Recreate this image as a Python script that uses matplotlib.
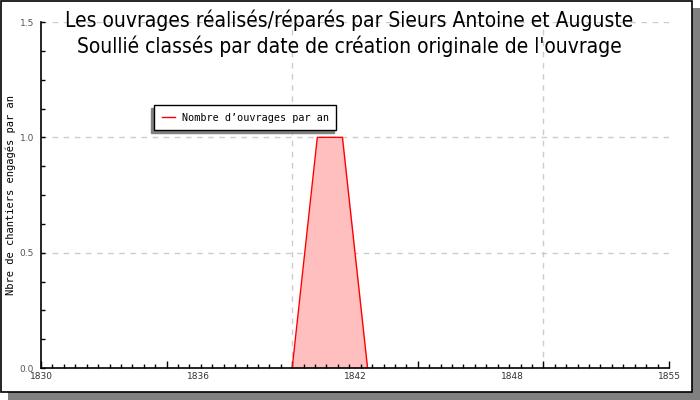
import matplotlib
matplotlib.use("Agg")
import matplotlib.pyplot as plt
import matplotlib.patches as mpatches
from matplotlib.ticker import MultipleLocator
import numpy as np

# Data
years = [1840, 1841, 1842, 1843]
counts = [0, 1, 1, 0]
x_label_texts = ["1830", "1836", "1842", "1848", "1855"]
y_ticks = [0.0, 0.5, 1.0, 1.5]
title = "Les ouvrages réalisés/réparés par Sieurs Antoine et Auguste\nSoullié classés par date de création originale de l'ouvrage"
ylabel = "Nbre de chantiers engagés par an"
legend_label = "Nombre d\u2019ouvrages par an"

W, H = 700, 400
fig = plt.figure(figsize=(7, 4), dpi=100)

# frame with shadow
fig.patches.append(mpatches.Rectangle((8 / W, 0), 692 / W, 392 / H, transform=fig.transFigure,
                                      facecolor="#808080", edgecolor="none", zorder=-2))
fig.patches.append(mpatches.Rectangle((0.5 / W, 8 / H), 691 / W, 391.5 / H, transform=fig.transFigure,
                                      facecolor="white", edgecolor="black", linewidth=1.2, zorder=-1))

ax = fig.add_axes([41 / W, 32 / H, 628 / W, 346 / H])
ax.set_facecolor("none")
ax.set_xlim(1830, 1855)
ax.set_ylim(0, 1.5)

# grid
for gx in [1840, 1850]:
    ax.axvline(gx, color="#cccccc", linestyle=(0, (4, 4)), linewidth=1, zorder=0)
for gy in [0.5, 1.0, 1.5]:
    ax.axhline(gy, color="#cccccc", linestyle=(0, (4, 4)), linewidth=1, zorder=0)

ax.fill_between(years, counts, color="#ffbfbf", zorder=1, linewidth=0)
ax.plot(years, counts, color="red", linewidth=1, zorder=2, label=legend_label)

for s in ["top", "right"]:
    ax.spines[s].set_visible(False)
for s in ["left", "bottom"]:
    ax.spines[s].set_linewidth(1.2)
    ax.spines[s].set_zorder(3)

# x ticks
ax.xaxis.set_major_locator(MultipleLocator(5))
ax.xaxis.set_minor_locator(MultipleLocator(5 / 11))
ax.tick_params(axis="x", which="major", direction="in", length=5, width=1, labelbottom=False)
ax.tick_params(axis="x", which="minor", direction="in", length=3, width=1)

sec = ax.secondary_xaxis("bottom")
sec.set_xticks(np.linspace(1830, 1855, len(x_label_texts)))
sec.set_xticklabels(x_label_texts)
sec.tick_params(length=0, pad=3, labelsize=6.5, labelcolor="#333333")
sec.spines["bottom"].set_visible(False)

# y ticks
ax.set_yticks(y_ticks)
ax.set_yticklabels([f"{v:.1f}" for v in y_ticks])
ax.yaxis.set_minor_locator(MultipleLocator(0.125))
ax.tick_params(axis="y", which="both", direction="in", length=3, width=1,
               labelsize=6.5, labelcolor="#555555", pad=5)

fig.text(11 / W, 1 - 195 / H, ylabel, rotation=90, ha="center", va="center",
         family="DejaVu Sans Mono", fontsize=7.5)

fig.text(349 / W, 1 - 33 / H, title, ha="center", va="center", fontsize=15,
         family="DejaVu Sans", fontstretch="condensed", linespacing=1.25)

leg = ax.legend(loc="upper left", bbox_to_anchor=((154 - 41) / 628, 1 - (105 - 22) / 346),
                borderaxespad=0,
                frameon=True, fancybox=False, edgecolor="black", framealpha=1,
                prop={"family": "DejaVu Sans Mono", "size": 7.3},
                handlelength=1.3, borderpad=0.75, handletextpad=0.7,
                shadow={"ox": -2, "oy": -2, "color": "#808080", "alpha": 1})
leg.get_frame().set_linewidth(1)

fig.savefig("out.png", dpi=100)
